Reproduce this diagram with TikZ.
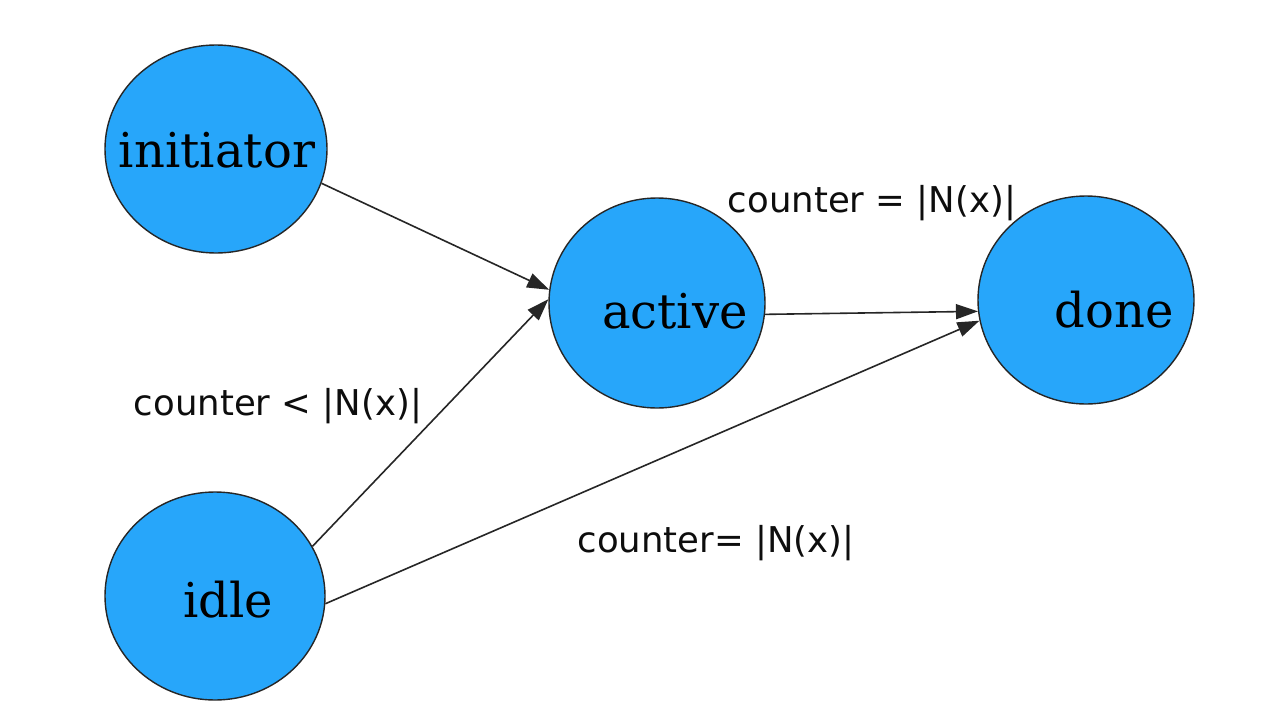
\documentclass[tikz,border=0pt]{standalone}
\usepackage{fontspec}
\setmainfont{DejaVu Serif}
\newfontfamily\labelfont{DejaVu Sans}
\usetikzlibrary{shapes.geometric,arrows.meta}
\definecolor{stateblue}{HTML}{27A6FA}
\tikzset{
  state/.style={ellipse, draw=black!85, line width=1.4pt, fill=stateblue, inner sep=0pt},
  statetext/.style={anchor=base, font=\fontsize{48}{50}\selectfont, text=black, inner sep=0pt},
  edgelabel/.style={anchor=base, font=\labelfont\fontsize{35.5}{38}\selectfont, text=black!95, inner sep=0pt},
  trans/.style={line width=1.6pt, draw=black!85, -{Triangle[length=22pt,width=15pt]}}
}
\begin{document}
\begin{tikzpicture}[x=1pt,y=-1pt]
\useasboundingbox (0,0) rectangle (1287,720);
\fill[white] (0,0) rectangle (1287,720);

\node[state, minimum width=222pt, minimum height=208pt] (initiator) at (216,149) {};
\node[state, minimum width=216pt, minimum height=210pt] (active) at (657,303) {};
\node[state, minimum width=216pt, minimum height=208pt] (done) at (1086,300) {};
\node[state, minimum width=220pt, minimum height=208pt] (idle) at (215,596) {};

\node[statetext] (tinit) at (217,167) {initiator};
\node[statetext] (tactive) at (675,328) {active};
\node[statetext] (tdone) at (1114,327) {done};
\node[statetext] (tidle) at (228,617) {idle};

\draw[trans] (initiator.-18) -- (active.173);
\draw[trans] (idle.27) -- (active.178);
\draw[trans] (active.-6) -- (done.186);
\draw[trans] (idle.-4) -- (done.191);

\node[edgelabel] (l1) at (872,212) {counter = |N(x)|};
\node[edgelabel] (l2) at (278,415) {counter < |N(x)|};
\node[edgelabel] (l3) at (716,552) {counter= |N(x)|};
\end{tikzpicture}
\end{document}
